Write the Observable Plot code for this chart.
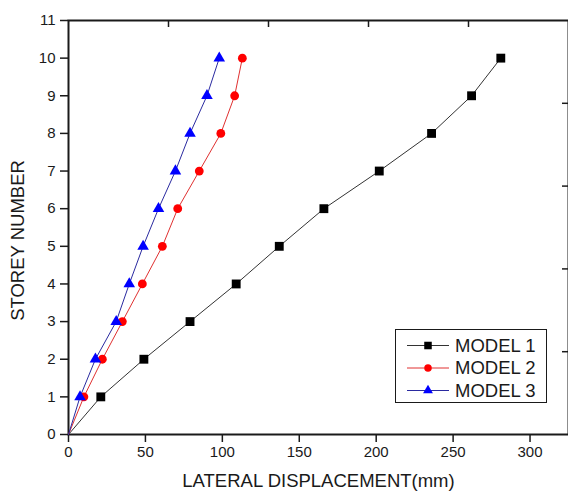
<!DOCTYPE html>
<html>
<head>
<meta charset="utf-8">
<script src="https://cdn.jsdelivr.net/npm/d3@7"></script>
<script src="https://cdn.jsdelivr.net/npm/@observablehq/plot@0.6"></script>
<style>
  html, body { margin: 0; padding: 0; background: #fff; }
  #chart { position: relative; width: 568px; height: 498px; overflow: hidden; }
</style>
</head>
<body>
<div id="chart"></div>
<script>
const storeys = [0, 1, 2, 3, 4, 5, 6, 7, 8, 9, 10];
const model1 = [0, 21, 49, 79, 109, 137, 166, 202, 236, 262, 281];
const model2 = [0, 10, 22, 35, 48, 61, 71, 85, 99, 108, 113];
const model3 = [0, 7.5, 17.5, 31, 39.5, 48.5, 58.5, 69.5, 79, 90, 98];
const seriesNames = ["MODEL 1", "MODEL 2", "MODEL 3"];
const xTicks = [0, 50, 100, 150, 200, 250, 300];
const yTicks = [0, 1, 2, 3, 4, 5, 6, 7, 8, 9, 10, 11];
const topTicks = [65, 130, 195, 260];
const rightTicks = [2.2, 4.4, 6.6, 8.8];

const series = [
  {name: seriesNames[0], values: model1, line: "#333333", fill: "#000000", symbol: "square", r: 5},
  {name: seriesNames[1], values: model2, line: "#e03030", fill: "#ff0000", symbol: "circle", r: 4.4},
  {name: seriesNames[2], values: model3, line: "#2a2aa0", fill: "#0000ff", symbol: "triangle", r: 4.3}
];

const rows = series.flatMap(s => storeys.map((st, i) => ({name: s.name, x: s.values[i], y: st})));

const font = "'Liberation Sans', Arial, sans-serif";
const marks = [];
for (const s of series) {
  const data = rows.filter(d => d.name === s.name);
  marks.push(Plot.line(data, {x: "x", y: "y", stroke: s.line, strokeWidth: 1}));
}
for (const s of series) {
  const data = rows.filter(d => d.name === s.name && d.y > 0);
  marks.push(Plot.dot(data, {x: "x", y: "y", symbol: () => s.symbol, fill: s.fill, stroke: "none", r: s.r}));
}

const plot = Plot.plot({
  width: 568,
  height: 498,
  marginLeft: 68,
  marginRight: 0,
  marginTop: 20,
  marginBottom: 64,
  style: {fontFamily: font, fontSize: "15px", color: "#1a1a1a", background: "#fff"},
  x: {domain: [0, 325]},
  y: {domain: [0, 11]},
  symbol: {type: "identity"},
  marks: [
    Plot.axisX({ticks: xTicks, tickSize: 8, tickPadding: 4, label: null, fontSize: 15, stroke: "#1a1a1a", strokeWidth: 1.5}),
    Plot.axisY({ticks: yTicks, tickSize: 8, tickPadding: 5, label: null, fontSize: 15, stroke: "#1a1a1a", strokeWidth: 1.5}),
    Plot.tickX(topTicks, {x: d => d, stroke: "#1a1a1a", strokeWidth: 1.5, insetBottom: 407}),
    Plot.tickY(rightTicks, {y: d => d, stroke: "#1a1a1a", strokeWidth: 1.5, insetLeft: 494}),
    Plot.frame({stroke: "#1a1a1a", strokeWidth: 2}),
    ...marks,
    Plot.text(["LATERAL DISPLACEMENT(mm)"], {frameAnchor: "bottom", dy: 52, text: d => d, fontSize: 18.5, fill: "#1a1a1a"}),
    Plot.text(["STOREY NUMBER"], {frameAnchor: "left", dx: -50, dy: 13, rotate: -90, textAnchor: "middle", text: d => d, fontSize: 18.5, fill: "#1a1a1a"})
  ]
});
document.getElementById("chart").appendChild(plot);

// Legend box drawn into the SVG
const svg = d3.select(plot);
const lg = svg.append("g").style("font-family", font).style("font-size", "18.5px").attr("text-anchor", "start");
lg.append("rect").attr("x", 395.5).attr("y", 329.5).attr("width", 151).attr("height", 73)
  .attr("fill", "#fff").attr("stroke", "#1a1a1a").attr("stroke-width", 1);
series.forEach((s, i) => {
  const cy = 345.5 + i * 22.5;
  lg.append("line").attr("x1", 407).attr("x2", 449).attr("y1", cy).attr("y2", cy)
    .attr("stroke", s.line).attr("stroke-width", 1);
  const sym = s.symbol === "square" ? d3.symbolSquare : s.symbol === "circle" ? d3.symbolCircle : d3.symbolTriangle;
  lg.append("path").attr("d", d3.symbol(sym, Math.PI * (s.r * 0.85) ** 2)())
    .attr("transform", `translate(428,${cy})`).attr("fill", s.fill);
  lg.append("text").attr("x", 455).attr("y", cy).attr("dy", "0.35em")
    .style("text-anchor", "start").style("font-size", "18.5px")
    .attr("fill", "#1a1a1a").text(s.name);
});
</script>
</body>
</html>
